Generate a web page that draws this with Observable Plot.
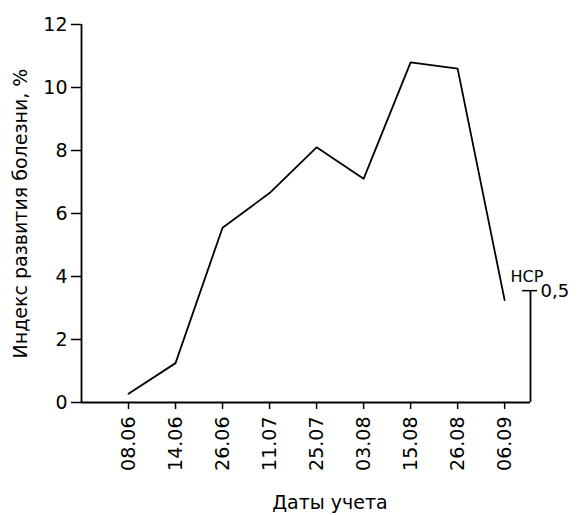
<!DOCTYPE html>
<html><head><meta charset="utf-8">
<script src="https://cdn.jsdelivr.net/npm/d3@7"></script>
<script src="https://cdn.jsdelivr.net/npm/@observablehq/plot@0.6"></script>
<style>body{margin:0;background:#fff} svg{display:block}</style>
</head><body><div id="chart"></div>
<script>
const dates = ["08.06","14.06","26.06","11.07","25.07","03.08","15.08","26.08","06.09"];
const diseaseIndex = [0.28, 1.25, 5.55, 6.65, 8.1, 7.1, 10.8, 10.6, 3.25];
const yTicks = [0, 2, 4, 6, 8, 10, 12];
const lsdValue = [3.55];
const lsdLabel = ["НСР"];
const lsdSub = ["0,5"];
const yTitle = ["Индекс развития болезни, %"];
const xTitle = ["Даты учета"];

const xDomain = [-1, 8.55];
const data = dates.map((d, i) => ({i, d, v: diseaseIndex[i]}));
const font = "'DejaVu Sans', sans-serif";
const xEnd = xDomain[1];

const chart = Plot.plot({
  width: 581, height: 515,
  marginLeft: 81, marginRight: 51, marginTop: 24, marginBottom: 113,
  style: {fontFamily: font, background: "#fff", color: "#000", overflow: "visible"},
  x: {type: "linear", domain: xDomain},
  y: {domain: [0, 12]},
  marks: [
    Plot.axisY({ticks: yTicks, tickSize: 10, tickPadding: 4, fontSize: 19, label: null, strokeWidth: 1.5}),
    Plot.axisX({ticks: d3.range(dates.length), tickFormat: i => dates[i], tickSize: 7, tickPadding: 7, tickRotate: -90, fontSize: 19, label: null, strokeWidth: 1.5}),
    Plot.ruleX([xDomain[0]], {stroke: "#000", strokeWidth: 1.8}),
    Plot.ruleY([0], {stroke: "#000", strokeWidth: 1.8}),
    Plot.lineY(data, {x: "i", y: "v", stroke: "#000", strokeWidth: 1.8}),
    Plot.ruleX(lsdValue, {x: () => xEnd, y1: 0, y2: d => d, stroke: "#000", strokeWidth: 1.8}),
    Plot.ruleY(lsdValue, {y: d => d, x1: () => xEnd - 0.17, x2: () => xEnd + 0.15, stroke: "#000", strokeWidth: 1.5}),
    Plot.text(lsdLabel, {x: () => xEnd, y: () => lsdValue[0], text: d => d, dx: -20, dy: -9, textAnchor: "start", lineAnchor: "bottom", fontSize: 16}),
    Plot.text(lsdSub, {x: () => xEnd, y: () => lsdValue[0], text: d => d, dx: 10, dy: 6, textAnchor: "start", lineAnchor: "bottom", fontSize: 18, letterSpacing: 3}),
    Plot.text(yTitle, {frameAnchor: "left", rotate: -90, dx: -61, text: d => d, textAnchor: "middle", fontSize: 19}),
    Plot.text(xTitle, {frameAnchor: "bottom", dx: 24, dy: 106, text: d => d, lineAnchor: "bottom", fontSize: 19})
  ]
});
document.getElementById("chart").append(chart);
</script>
</body></html>
